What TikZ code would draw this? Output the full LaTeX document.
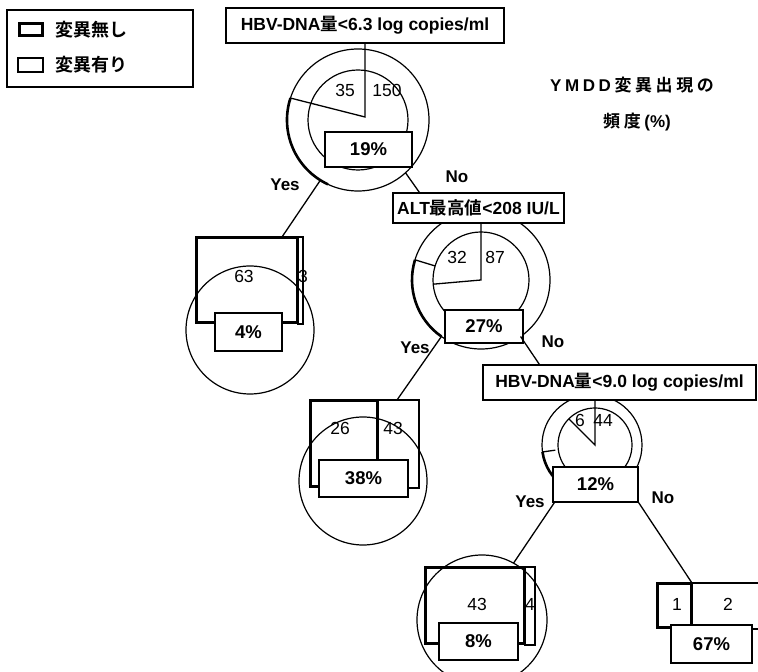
\documentclass[tikz,border=0pt]{standalone}
\usepackage{fontspec}
\setmainfont{Liberation Sans}
\newfontfamily\jp{Noto Sans CJK JP}[BoldFont={Noto Sans CJK JP Bold}]
\usetikzlibrary{calc}
\newcommand{\gp}{\hspace{3.6pt}}
\begin{document}
\begin{tikzpicture}[x=1pt,y=1pt,
  ln/.style={line width=1.3pt},
  ring/.style={line width=1.2pt},
  ringdark/.style={line width=2.6pt},
  pbox/.style={draw, fill=white, line width=1.4pt, inner sep=0pt, font=\fontsize{18.5}{18.5}\selectfont\bfseries},
  tbox/.style={draw, fill=white, line width=1.4pt, inner sep=0pt, font=\fontsize{17.5}{17.5}\selectfont\bfseries},
  num/.style={inner sep=0pt, font=\fontsize{17.5}{17.5}\selectfont},
  yn/.style={inner sep=0pt, font=\fontsize{17}{17}\selectfont\bfseries},
  lgtext/.style={inner sep=0pt, anchor=west, font=\fontsize{18}{18}\selectfont\bfseries\jp},
  bigtext/.style={inner sep=0pt, font=\fontsize{17}{17}\selectfont\bfseries},
  barA/.style={draw, line width=3pt},
  barB/.style={draw, line width=1.2pt},
]
\useasboundingbox (0,0) rectangle (758,672);

% ---------- legend ----------
\node[draw, line width=1.3pt, minimum width=186pt, minimum height=77pt, inner sep=0pt] (legend) at (100,623.5) {};
\draw[barA] (19,648) rectangle (42,636);
\draw[barB] (18,614) rectangle (43,600);
\node[lgtext] (lg1) at (55,642) {変異無し};
\node[lgtext] (lg2) at (55,607) {変異有り};

% ---------- title text ----------
\node[bigtext] (ymdd) at (632,587) {Y\gp M\gp D\gp D\gp{\jp 変\gp 異\gp 出\gp 現\gp の}};
\node[bigtext] (freq) at (637,550) {{\jp 頻\gp 度}\gp (\%)};

% ---------- circles (drawn first) ----------
\coordinate (c1) at (358,552);
\coordinate (o1) at (365,555);
\draw[ring] (c1) circle[radius=71];
\draw[ring] (c1) circle[radius=50];
\draw[ringdark] ($(c1)+(162:71)$) arc[start angle=162, end angle=245, radius=71];

\coordinate (c2) at (481,392);
\draw[ring] (c2) circle[radius=69];
\draw[ring] (c2) circle[radius=48];
\draw[ringdark] ($(c2)+(163:69)$) arc[start angle=163, end angle=235, radius=69];

\coordinate (c3) at (592,227);
\coordinate (o3) at (595,227);
\draw[ring] (c3) circle[radius=50];
\draw[ring] (o3) circle[radius=37];
\draw[ringdark] ($(c3)+(188:50)$) arc[start angle=188, end angle=235, radius=50];

% leaf circles
\coordinate (c4) at (250,342);
\draw[ring] (c4) circle[radius=64];
\coordinate (c5) at (363,191);
\draw[ring] (c5) circle[radius=64];
\coordinate (c6) at (482,52);
\draw[ring] (c6) circle[radius=65];

% ---------- bars ----------
\draw[barA] (196,434) rectangle (297,349);
\draw[barB] (298,435) rectangle (303,348);
\draw[barA] (310,271) rectangle (377,185);
\draw[barB] (378,272) rectangle (419,184);
\draw[barA] (425,104) rectangle (524,28);
\draw[barB] (525,105) rectangle (535,27);
\draw[barA] (657,88) rectangle (691,44);
\draw[barB] (692,89) -- (758,89) (692,43) -- (758,43);

% ---------- pie slice lines ----------
\node[tbox, minimum width=278pt, minimum height=35pt] (t1) at (365,646.5) {HBV-DNA{\jp 量}<6.3 log copies/ml};
\draw[ln] (t1.south) -- (o1) -- ($(c1)+(162:71)$);

\node[tbox, minimum width=171pt, minimum height=30pt] (t2) at (478.5,464) {ALT{\jp 最高値}<208 IU/L};
\draw[ln] (t2.south -| c2) -- (c2) -- ($(c2)+(185:48)$);
\draw[ln] ($(c2)+(163:48)$) -- ($(c2)+(163:69)$);

\node[tbox, minimum width=273pt, minimum height=35pt] (t3) at (619.5,289.5) {HBV-DNA{\jp 量}<9.0 log copies/ml};
\draw[ln] (t3.south -| o3) -- (o3) -- ($(o3)+(135:37)$);
\draw[ln] ($(c3)+(188:37)$) -- ($(c3)+(188:50)$);

% ---------- counts ----------
\node[num] (n35) at (345,582) {35};
\node[num] (n150) at (387,582) {150};
\node[num] (n32) at (457,415) {32};
\node[num] (n87) at (495,415) {87};
\node[num] (n6) at (580,252) {6};
\node[num] (n44) at (603,252) {44};
\node[num] (n63) at (244,396) {63};
\node[num] (n3) at (303,396) {3};
\node[num] (n26) at (340,244) {26};
\node[num] (n43a) at (393,244) {43};
\node[num] (n43b) at (477,68) {43};
\node[num] (n4) at (530,68) {4};
\node[num] (n1) at (677,68) {1};
\node[num] (n2) at (728,68) {2};

% ---------- percentage boxes ----------
\node[pbox, minimum width=87pt, minimum height=35pt] (p19) at (368.5,522.5) {19\%};
\node[pbox, minimum width=78pt, minimum height=33pt] (p27) at (484,345.5) {27\%};
\node[pbox, minimum width=85pt, minimum height=35pt] (p12) at (595.5,187.5) {12\%};
\node[pbox, minimum width=67pt, minimum height=38pt] (p4) at (248.5,340) {4\%};
\node[pbox, minimum width=89pt, minimum height=37pt] (p38) at (363.5,193.5) {38\%};
\node[pbox, minimum width=79pt, minimum height=37pt] (p8) at (478.5,30.5) {8\%};
\node[pbox, minimum width=81pt, minimum height=38pt] (p67) at (711.5,28) {67\%};

% ---------- connectors ----------
\coordinate (y1s) at ($(c1)+(238:71)$);
\coordinate (y1e) at (282,435);
\draw[ln] (y1s) -- (y1e);
\coordinate (n1s) at ($(c1)+(312:71)$);
\coordinate (n1e) at ($(t2.north west)+(27,0)$);
\draw[ln] (n1s) -- (n1e);

\coordinate (y2s) at ($(c2)+(235:69)$);
\coordinate (y2e) at (397,272);
\draw[ln] (y2s) -- (y2e);
\coordinate (n2s) at ($(c2)+(305:69)$);
\coordinate (n2e) at ($(t3.north west)+(57,0)$);
\draw[ln] (n2s) -- (n2e);

\coordinate (y3e) at ($(c6)+(61:65)$);
\draw[ln] ($(p12.south west)+(2,0)$) -- (y3e);
\coordinate (n3e) at (692,89);
\draw[ln] (p12.south east) -- (n3e);

% ---------- Yes / No ----------
\node[yn] (yes1) at (285,487) {Yes};
\node[yn] (no1) at (457,495) {No};
\node[yn] (yes2) at (415,324) {Yes};
\node[yn] (no2) at (553,330) {No};
\node[yn] (yes3) at (530,170) {Yes};
\node[yn] (no3) at (663,174) {No};
\end{tikzpicture}
\end{document}
